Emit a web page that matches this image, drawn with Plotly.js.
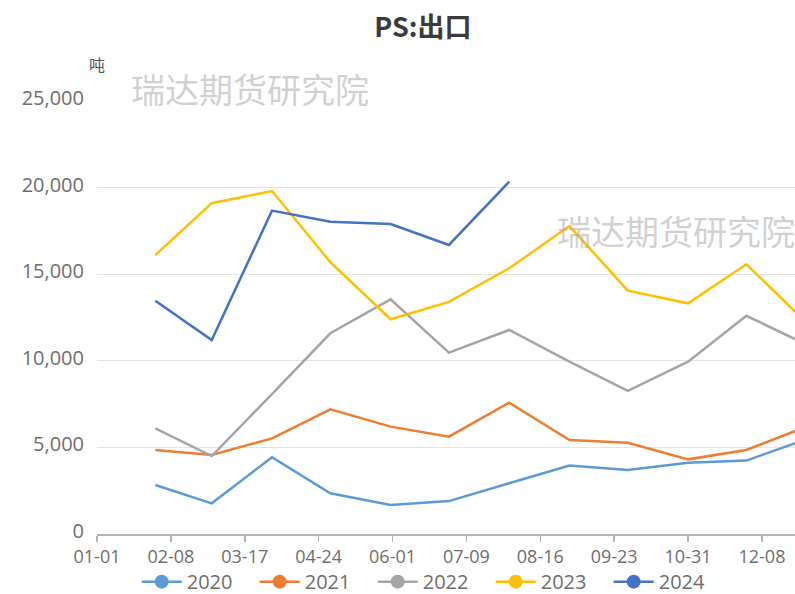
<!DOCTYPE html>
<html>
<head>
<meta charset="utf-8">
<script src="https://cdn.plot.ly/plotly-3.0.1.min.js"></script>
<style>html,body{margin:0;padding:0;background:#fff;}#chart{width:795px;height:594px;}</style>
</head>
<body>
<div id="chart"></div>
<script>
// Month-end dates (2020 used as a common calendar year for all series)
const dates = ['2020-01-31','2020-02-29','2020-03-31','2020-04-30','2020-05-31','2020-06-30',
               '2020-07-31','2020-08-31','2020-09-30','2020-10-31','2020-11-30','2020-12-31'];
const seriesNames = ['2020','2021','2022','2023','2024'];
const v2020 = [2830, 1770, 4430, 2350, 1680, 1900, 2930, 3950, 3700, 4120, 4240, 5480];
const v2021 = [4850, 4560, 5520, 7200, 6200, 5620, 7580, 5430, 5270, 4310, 4850, 6200];
const v2022 = [6100, 4500, 8080, 11590, 13550, 10470, 11780, 9950, 8270, 9950, 12600, 10930];
const v2023 = [16100, 19100, 19800, 15700, 12400, 13400, 15340, 17780, 14050, 13320, 15570, 12200];
const v2024 = [13470, 11200, 18670, 18030, 17900, 16690, 20340];
const colors = ['#5B9BD5','#ED7D31','#A5A5A5','#FFC000','#4472C4'];
const values = [v2020, v2021, v2022, v2023, v2024];

const FONT = '"Open Sans","Noto Sans CJK SC",sans-serif';
const CJK = '"Noto Sans CJK SC","Microsoft YaHei",sans-serif';

const traces = values.map((v, i) => ({
  type: 'scatter',
  mode: 'lines',
  name: seriesNames[i],
  x: dates.slice(0, v.length),
  y: v,
  line: {color: colors[i], width: 2.5},
  showlegend: false,
  hoverinfo: 'skip'
}));
// legend entries with circle marker
values.forEach((v, i) => {
  traces.push({
    type: 'scatter', mode: 'lines+markers', name: seriesNames[i],
    x: [null], y: [null],
    line: {color: colors[i], width: 2.5},
    marker: {color: colors[i], size: 14},
    showlegend: true
  });
});

const wmFont = {family: CJK, size: 34, color: 'rgba(170,170,170,0.55)'};
const layout = {
  width: 795, height: 594,
  margin: {l: 97, r: 0, t: 101, b: 60, autoexpand: false},
  paper_bgcolor: '#ffffff', plot_bgcolor: '#ffffff',
  font: {family: FONT, color: '#6e6e6e', size: 20},
  title: {text: '<b>PS:出口</b>', x: 0.532, xanchor: 'center', y: 0.953, yanchor: 'middle',
          font: {family: CJK, size: 27, color: '#3a3a3a'}},
  xaxis: {
    type: 'date',
    range: ['2020-01-01', '2020-12-25'],
    tickmode: 'linear', tick0: '2020-01-01', dtick: 38 * 86400000,
    tickformat: '%m-%d',
    showgrid: false, zeroline: false,
    showline: true, linecolor: '#b3b3b3', linewidth: 1.5,
    ticks: 'outside', ticklen: 6, tickcolor: '#b3b3b3', tickwidth: 1.5,
    ticklabelstandoff: 0,
    tickfont: {family: FONT, size: 18, color: '#6e6e6e'}
  },
  yaxis: {
    range: [0, 25000],
    tickmode: 'linear', tick0: 0, dtick: 5000,
    tickformat: ',d',
    showgrid: true, gridcolor: '#e4e4e4', gridwidth: 1,
    zeroline: false, showline: false,
    ticklabelstandoff: 12,
    ticklabelshift: -3,
    tickfont: {family: FONT, size: 20, color: '#6e6e6e'}
  },
  showlegend: true,
  legend: {
    orientation: 'h', x: 0.4795, xanchor: 'center', y: -0.11, yanchor: 'middle',
    bgcolor: 'rgba(0,0,0,0)',
    font: {family: FONT, size: 20, color: '#6e6e6e'},
    entrywidth: 63, itemwidth: 40
  },
  annotations: [
    {xref: 'paper', yref: 'paper', x: 0, y: 1.085, text: '吨', showarrow: false,
     xanchor: 'center', yanchor: 'middle', font: {family: CJK, size: 16, color: '#555'}},
    {xref: 'paper', yref: 'paper', x: 0.219, y: 1.03, text: '瑞达期货研究院', showarrow: false,
     xanchor: 'center', yanchor: 'middle', font: wmFont},
    {xref: 'paper', yref: 'paper', x: 0.8295, y: 0.70, text: '瑞达期货研究院', showarrow: false,
     xanchor: 'center', yanchor: 'middle', font: wmFont}
  ]
};

Plotly.newPlot('chart', traces, layout, {displayModeBar: false, staticPlot: true});
</script>
</body>
</html>
